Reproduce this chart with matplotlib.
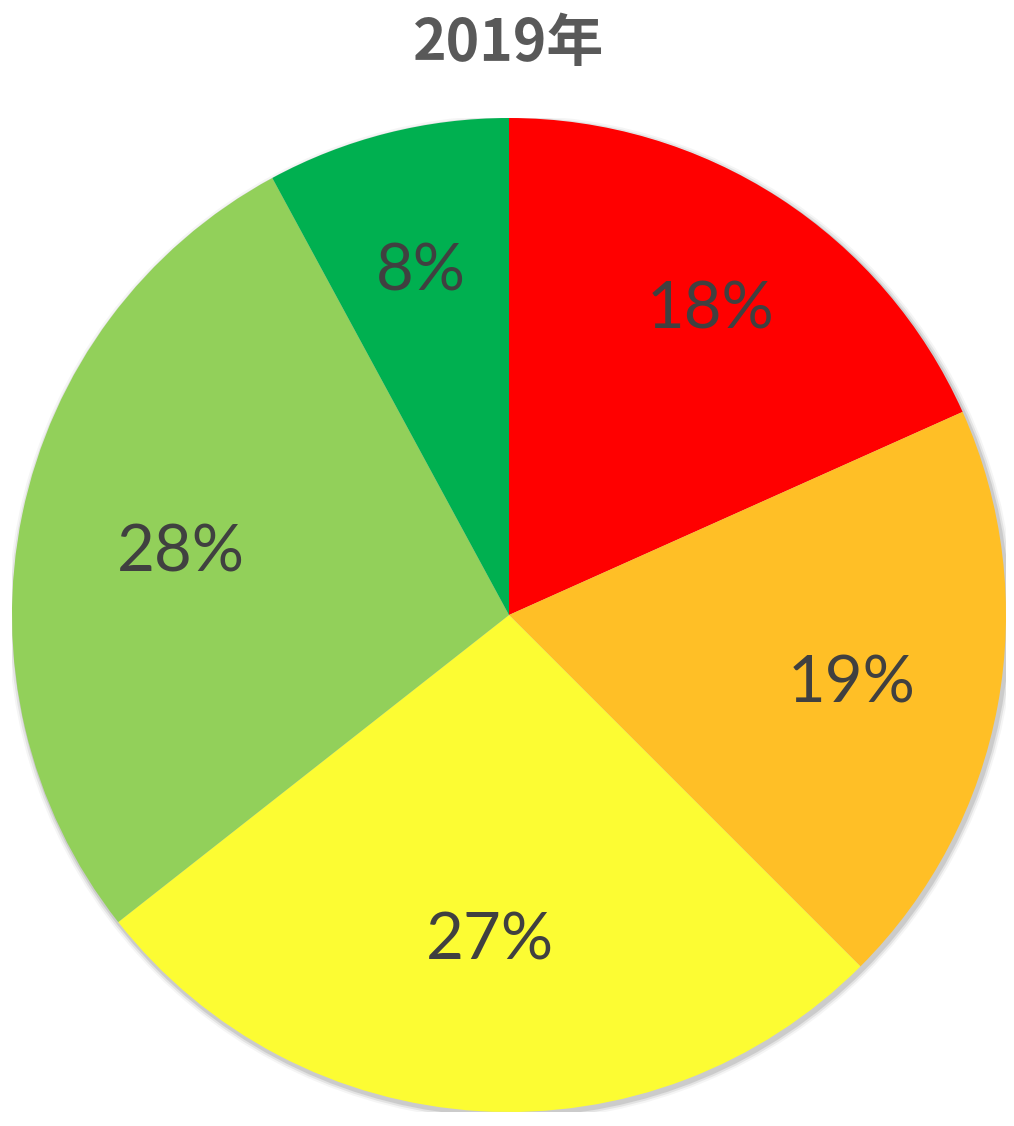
import matplotlib.pyplot as plt
import numpy as np
from matplotlib.patches import Circle

# 数据 (顺时针, 从正上方开始)
title = "2019年"
values = [18.3, 19.2, 26.9, 27.7, 7.9]
colors = ["#FF0000", "#FFBF26", "#FCFC33", "#92D05A", "#00B050"]
# label radial position for each slice (fraction of radius)
label_dist = [0.745, 0.70, 0.645, 0.675, 0.725]

plt.rcParams['font.family'] = ['Lato', 'DejaVu Sans']

fig = plt.figure(figsize=(10.14, 11.26), dpi=100)
ax = fig.add_axes([12 / 1014, 14 / 1126, 994 / 1014, 994 / 1126])

# soft shadow behind the pie
for k, a in enumerate([0.10, 0.07, 0.04]):
    ax.add_patch(Circle((0.004, -0.006), 1.0 + 0.004 * (k + 1), color="#000000",
                        alpha=a, lw=0, zorder=0))

wedges, texts, autotexts = ax.pie(values, colors=colors, startangle=90, counterclock=False,
                                  autopct='%.0f%%', pctdistance=0.7,
                                  wedgeprops=dict(linewidth=0, zorder=1),
                                  textprops=dict(color="#404040", fontsize=47))

for w, t, d in zip(wedges, autotexts, label_dist):
    ang = np.deg2rad((w.theta1 + w.theta2) / 2)
    t.set_position((d * np.cos(ang), d * np.sin(ang) - 0.012))
    t.set_zorder(3)

ax.set_xlim(-1, 1)
ax.set_ylim(-1, 1)
ax.set_aspect('equal')
ax.axis('off')

fig.text(509 / 1014, 1 - 44 / 1126, title, ha='center', va='center', fontsize=41,
         fontweight='bold', color="#595959", family=['Noto Sans CJK SC', 'DejaVu Sans'])

plt.savefig("out.png", dpi=100)
